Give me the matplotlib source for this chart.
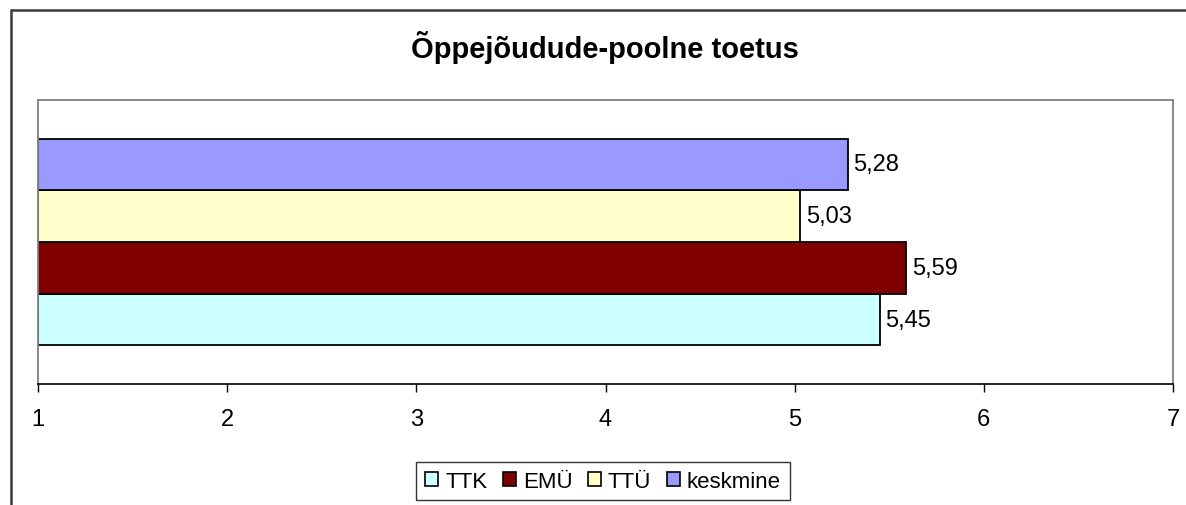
import matplotlib
matplotlib.use("Agg")
import matplotlib.pyplot as plt
from matplotlib.patches import Rectangle, Patch

# ~~~ data ~~~
series = ["TTK", "EMÜ", "TTÜ", "keskmine"]
values = [5.45, 5.59, 5.03, 5.28]
colors = ["#CCFFFF", "#800000", "#FFFFCC", "#9999FF"]
xticks = [1, 2, 3, 4, 5, 6, 7]
title = "Õppejõudude-poolne toetus"

plt.rcParams["font.family"] = ["Liberation Sans", "DejaVu Sans"]

W, H = 1186, 506
fig = plt.figure(figsize=(W / 100, H / 100), dpi=100)

# outer chart frame (runs off the right and bottom of the picture)
fig.patches.append(Rectangle((11 / W, -0.1), 1.2, 1.1 - 11 / H, transform=fig.transFigure,
                             fill=False, edgecolor="#3a3a3a", linewidth=1.8))

ax = fig.add_axes([38 / W, 1 - 385 / H, (1173 - 38) / W, (385 - 101) / H])

h = 0.182
offsets = [-1.5 * h, -0.5 * h, 0.5 * h, 1.5 * h]
for name, v, c, off in zip(series, values, colors, offsets):
    ax.barh(off, v - 1, left=1, height=h, color=c, edgecolor="black", linewidth=1.3, label=name)
    ax.annotate(f"{v:.2f}".replace(".", ","), (v, off), xytext=(4, 0), textcoords="offset points",
                va="center", ha="left", fontsize=17)

ax.set_xlim(1, 7)
ax.set_ylim(-0.5, 0.5)
ax.set_xticks(xticks)
ax.set_yticks([])
ax.tick_params(axis="x", direction="out", length=6, width=1, labelsize=17, pad=11)
for s in ["left", "top", "right"]:
    ax.spines[s].set_color("#808080")
    ax.spines[s].set_linewidth(1.3)
ax.spines["bottom"].set_color("black")
ax.spines["bottom"].set_linewidth(1.2)

fig.text(605 / W, 1 - 48 / H, title, ha="center", va="center", fontsize=21, fontweight="bold")

handles = [Patch(facecolor=c, edgecolor="black", linewidth=1.2) for c in colors]
leg = fig.legend(handles, series, loc="center", bbox_to_anchor=(603 / W, 1 - 482 / H), ncol=4,
                 fontsize=16, frameon=True, fancybox=False, edgecolor="black",
                 handlelength=0.6, handleheight=0.6, handletextpad=0.3, columnspacing=0.7,
                 borderpad=0.4, borderaxespad=0)
leg.get_frame().set_linewidth(1.0)

fig.savefig("out.png", dpi=100)
